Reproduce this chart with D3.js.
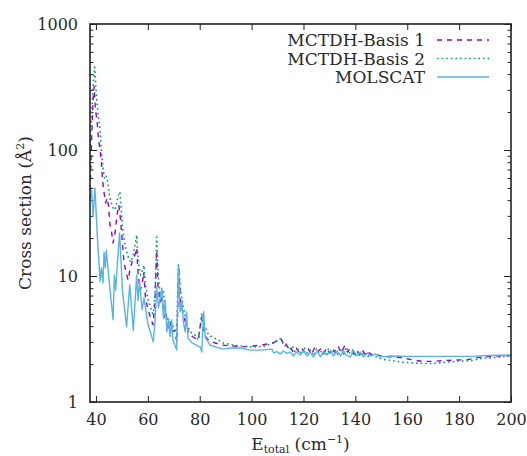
<!DOCTYPE html>
<html>
<head>
<meta charset="utf-8">
<script src="https://cdn.jsdelivr.net/npm/d3@7"></script>
<style>
	body { margin: 0; background: #fff; }
	svg text { font-family: "DejaVu Serif", serif; fill: #2a2a2a; }
</style>
</head>
<body>
<svg id="chart" width="527" height="456"></svg>
<script>
// MOLSCAT
var molscatE = [37.7, 38.3, 38.9, 39.6, 40.6, 41.6, 42.1, 42.7, 43.1, 43.6, 44.0, 45.3, 46.6, 47.1, 47.6, 48.1, 49.1, 50.2, 51.8, 53.0, 53.5, 54.4, 55.7, 56.2, 56.8, 57.8, 58.5, 60.1, 62.1, 62.8, 63.4, 64.1, 65.4, 66.0, 66.7, 67.3, 68.0, 68.6, 69.2, 69.7, 71.1, 71.8, 72.4, 73.1, 73.7, 74.4, 74.9, 75.5, 77.1, 80.2, 80.8, 81.5, 82.1, 84.0, 86.4, 89.0, 91.8, 95.6, 99.5, 103.3, 107.8, 108.5, 109.8, 111.1, 112.2, 113.6, 114.9, 116.1, 117.2, 118.8, 119.9, 121.4, 122.6, 123.9, 125.3, 126.5, 127.7, 129.1, 130.4, 131.5, 133.0, 134.2, 135.4, 136.5, 138.1, 139.2, 140.7, 141.9, 143.1, 144.6, 145.8, 147.7, 149.6, 153.5, 161.2, 172.8, 184.4, 192.1, 200];
var molscatSigma = [40, 48, 29.5, 50, 19.3, 9.1, 11.6, 8.8, 15.5, 11.6, 16, 8.2, 4.5, 10.2, 7.7, 11.2, 22, 7.7, 3.95, 8.5, 6.4, 3.7, 10.2, 6.4, 9, 5.4, 6.7, 4.1, 3.0, 4.5, 8.2, 5.6, 8, 4.6, 6.4, 3.6, 4.6, 3.3, 4.5, 3.1, 2.58, 12, 5.2, 6.4, 4.3, 3.6, 5.2, 3.2, 2.94, 2.73, 2.49, 5.2, 3.27, 2.83, 2.73, 2.63, 2.68, 2.68, 2.58, 2.58, 2.63, 2.45, 2.51, 2.4, 2.54, 2.43, 2.49, 2.32, 2.49, 2.36, 2.54, 2.32, 2.49, 2.28, 2.54, 2.28, 2.49, 2.36, 2.58, 2.32, 2.54, 2.32, 2.54, 2.36, 2.28, 2.58, 2.32, 2.49, 2.28, 2.45, 2.32, 2.4, 2.28, 2.32, 2.3, 2.3, 2.3, 2.34, 2.36];

// MCTDH-Basis 1
var basis1E = [37.7, 38.3, 38.9, 39.3, 39.8, 40.4, 41.0, 41.6, 42.1, 42.5, 43.1, 43.7, 44.3, 44.8, 45.4, 46.0, 46.6, 47.4, 48.1, 48.8, 49.5, 50.1, 50.8, 51.6, 52.4, 53.1, 53.9, 54.7, 55.7, 56.2, 57.0, 57.8, 58.4, 59.1, 60.1, 61.1, 62.0, 62.7, 63.4, 63.9, 64.7, 65.5, 66.3, 67.0, 67.8, 68.6, 69.4, 70.3, 71.2, 71.9, 72.6, 73.4, 74.2, 75.0, 75.9, 77.5, 79.4, 80.7, 81.5, 82.5, 84.0, 86.0, 88.7, 92.5, 96.4, 100.2, 104.1, 106.4, 108.0, 109.1, 110.3, 111.1, 111.8, 112.6, 113.4, 114.1, 114.9, 116.1, 117.2, 118.4, 119.6, 120.7, 121.9, 123.1, 124.2, 125.4, 126.6, 127.7, 128.9, 130.0, 131.2, 132.3, 133.5, 134.6, 135.8, 137.0, 138.1, 139.3, 140.4, 141.6, 142.7, 143.9, 145.0, 146.6, 148.5, 150.8, 154.3, 157.4, 161.6, 165.9, 170.1, 174.0, 178.6, 183.3, 187.1, 192.1, 196.0, 200];
var basis1Sigma = [40, 120, 250, 320, 208, 172, 120, 100, 80, 58, 46, 38, 41.5, 36.5, 25.4, 22.4, 18.3, 22.4, 30.4, 36.6, 27.8, 19.3, 12.9, 10.7, 9.3, 11.2, 12.9, 13.9, 16.7, 10.7, 7.7, 8.5, 10.7, 6.7, 5.4, 4.6, 4.1, 5.9, 16, 8.5, 6.2, 6.7, 4.6, 5.0, 3.86, 4.3, 3.6, 3.7, 3.0, 11.6, 6.45, 5.2, 4.5, 4.0, 3.46, 3.28, 3.1, 4.7, 3.7, 3.22, 3.05, 2.94, 2.83, 2.78, 2.75, 2.78, 2.83, 2.9, 2.94, 3.0, 3.12, 3.2, 3.05, 2.78, 2.88, 2.63, 2.73, 2.49, 2.68, 2.45, 2.63, 2.45, 2.63, 2.36, 2.68, 2.49, 2.63, 2.4, 2.68, 2.45, 2.68, 2.45, 2.73, 2.45, 2.78, 2.49, 2.68, 2.4, 2.58, 2.36, 2.58, 2.36, 2.49, 2.32, 2.36, 2.28, 2.28, 2.25, 2.17, 2.1, 2.1, 2.13, 2.15, 2.17, 2.25, 2.3, 2.32, 2.34];

// MCTDH-Basis 2
var basis2E = [37.7, 38.1, 38.6, 39.1, 39.5, 39.9, 40.4, 41.0, 41.6, 42.1, 42.7, 43.3, 43.9, 44.5, 45.0, 45.6, 46.2, 47.0, 47.7, 48.5, 49.2, 49.9, 50.4, 51.2, 52.0, 52.8, 53.5, 54.3, 55.1, 55.7, 56.3, 57.2, 58.0, 58.5, 59.1, 60.1, 61.1, 62.1, 62.8, 63.4, 64.1, 64.9, 66.0, 66.7, 67.4, 68.6, 69.9, 71.1, 71.8, 72.6, 73.7, 75.0, 76.3, 78.2, 79.5, 80.8, 81.7, 83.4, 86.0, 89.1, 92.9, 97.6, 101.8, 105.3, 107.2, 108.7, 109.9, 110.9, 111.8, 112.8, 113.8, 114.5, 115.7, 116.8, 118.0, 119.2, 120.3, 121.5, 122.6, 123.8, 125.0, 126.1, 127.3, 128.4, 129.6, 130.8, 131.9, 133.1, 134.2, 135.4, 136.5, 137.7, 138.9, 140.0, 141.2, 142.3, 143.5, 144.6, 146.2, 148.1, 150.4, 154.3, 158.2, 162.0, 166.3, 170.1, 174.8, 179.4, 184.4, 188.3, 193.3, 197.2, 200];
var basis2Sigma = [100, 158, 250, 370, 455, 330, 236, 180, 144, 100, 72, 60, 63, 56, 46.5, 40, 36.5, 33.4, 35.2, 43, 46.5, 30.4, 22.4, 17.6, 15.2, 13.4, 12.9, 14.7, 17.6, 21.2, 12.9, 10.2, 11.2, 12.2, 8.5, 6.45, 5.6, 4.8, 7.7, 20.4, 9.3, 6.8, 7.7, 5.2, 4.6, 4.3, 3.94, 3.6, 12.2, 7.7, 5.6, 4.2, 3.62, 3.4, 3.1, 5.1, 4.1, 3.4, 3.19, 2.94, 2.83, 2.75, 2.73, 2.78, 2.88, 2.94, 3.1, 3.2, 2.99, 2.78, 2.83, 2.58, 2.78, 2.49, 2.63, 2.4, 2.68, 2.45, 2.58, 2.32, 2.63, 2.4, 2.58, 2.36, 2.63, 2.4, 2.63, 2.4, 2.68, 2.4, 2.73, 2.45, 2.58, 2.36, 2.54, 2.32, 2.49, 2.28, 2.4, 2.28, 2.19, 2.13, 2.07, 2.04, 2.02, 2.02, 2.07, 2.1, 2.13, 2.21, 2.25, 2.3, 2.32];

var xTicks = [40, 60, 80, 100, 120, 140, 160, 180, 200];
var yTicks = [1, 10, 100, 1000];
var seriesNames = ["MCTDH-Basis 1", "MCTDH-Basis 2", "MOLSCAT"];

var width = 527, height = 456,
	margin = {top: 24, right: 16, bottom: 54, left: 90},
	x = d3.scaleLinear().domain([37.7, 200]).range([margin.left, width - margin.right]),
	y = d3.scaleLog().domain([1, 1000]).range([height - margin.bottom, margin.top]);

var svg = d3.select("#chart");

var minorTicks = [];
[1, 10, 100].forEach(function (d) {
	for (var k = 2; k <= 9; k++) minorTicks.push(d * k);
});

// ticks, all pointing inward, mirrored on all four sides
function drawAxis(axis, tx, ty, labels) {
	var g = svg.append("g").attr("transform", "translate(" + tx + "," + ty + ")").call(axis);
	g.select(".domain").remove();
	g.selectAll("line").attr("stroke", "#222").attr("stroke-width", 1);
	if (!labels) g.selectAll("text").remove();
	else g.selectAll("text").attr("font-size", 16).attr("fill", "#2a2a2a").attr("font-family", "DejaVu Serif, serif");
	return g;
}

drawAxis(d3.axisBottom(x).tickValues(xTicks).tickSize(-6).tickPadding(12), 0, y.range()[0], true);
drawAxis(d3.axisTop(x).tickValues(xTicks).tickSize(-6), 0, margin.top, false);
drawAxis(d3.axisLeft(y).tickValues(yTicks).tickFormat(d3.format("d")).tickSize(-7).tickPadding(12), margin.left, 0, true);
drawAxis(d3.axisLeft(y).tickValues(minorTicks).tickSize(-3.5), margin.left, 0, false);
drawAxis(d3.axisRight(y).tickValues(yTicks).tickSize(-7), width - margin.right, 0, false);
drawAxis(d3.axisRight(y).tickValues(minorTicks).tickSize(-3.5), width - margin.right, 0, false);

var line = d3.line()
	.x(function (d) { return x(d[0]); })
	.y(function (d) { return y(d[1]); });

var series = [
	{name: seriesNames[0], e: basis1E, s: basis1Sigma, color: "#9400d3", dash: "5,5", w: 1.4},
	{name: seriesNames[1], e: basis2E, s: basis2Sigma, color: "#009e73", dash: "1.6,3", w: 1.6},
	{name: seriesNames[2], e: molscatE, s: molscatSigma, color: "#56b4e9", dash: null, w: 1.4}
];

svg.append("clipPath").attr("id", "clip")
	.append("rect")
	.attr("x", margin.left).attr("y", margin.top)
	.attr("width", width - margin.left - margin.right)
	.attr("height", height - margin.top - margin.bottom);

series.forEach(function (sr) {
	var pts = sr.e.map(function (e, i) { return [e, sr.s[i]]; });
	svg.append("path")
		.datum(pts)
		.attr("clip-path", "url(#clip)")
		.attr("fill", "none")
		.attr("stroke", sr.color)
		.attr("stroke-width", sr.w)
		.attr("stroke-dasharray", sr.dash)
		.attr("stroke-linejoin", "round")
		.attr("d", line);
});

// frame
svg.append("rect")
	.attr("x", margin.left).attr("y", margin.top)
	.attr("width", width - margin.left - margin.right)
	.attr("height", height - margin.top - margin.bottom)
	.attr("fill", "none").attr("stroke", "#222").attr("stroke-width", 1.6);

// legend
var legend = svg.append("g");
series.forEach(function (sr, i) {
	var yy = 40 + i * 18.5;
	legend.append("text")
		.attr("x", 425).attr("y", yy + 6)
		.attr("text-anchor", "end")
		.attr("font-size", 17)
		.text(sr.name);
	legend.append("line")
		.attr("x1", 437).attr("x2", 489)
		.attr("y1", yy).attr("y2", yy)
		.attr("stroke", sr.color)
		.attr("stroke-width", sr.w)
		.attr("stroke-dasharray", sr.dash);
});

// axis titles
var xl = svg.append("text")
	.attr("x", (margin.left + width - margin.right) / 2)
	.attr("y", 450)
	.attr("text-anchor", "middle")
	.attr("font-size", 17);
xl.append("tspan").text("E");
xl.append("tspan").attr("font-size", 11).attr("dy", 3).text("total");
xl.append("tspan").attr("dy", -3).text(" (cm");
xl.append("tspan").attr("font-size", 11).attr("dy", -7).text("\u22121");
xl.append("tspan").attr("dy", 7).text(")");

var yl = svg.append("text")
	.attr("transform", "translate(31," + (y.range()[0] + y.range()[1]) / 2 + ") rotate(-90)")
	.attr("text-anchor", "middle")
	.attr("font-size", 17);
yl.append("tspan").text("Cross section (\u00c5");
yl.append("tspan").attr("font-size", 11).attr("dy", -7).text("2");
yl.append("tspan").attr("dy", 7).text(")");
</script>
</body>
</html>
